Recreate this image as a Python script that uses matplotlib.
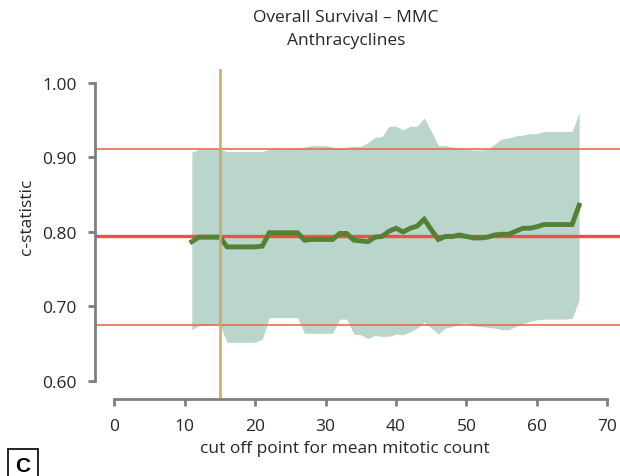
import numpy as np
import matplotlib
matplotlib.use("Agg")
import matplotlib.pyplot as plt

plt.rcParams['font.family'] = ['Open Sans', 'DejaVu Sans']

# cut off points (mean mitotic count)
cutoff = np.arange(11, 67)

# c-statistic and its confidence band
c_stat = [0.787, 0.793, 0.793, 0.793, 0.793, 0.780, 0.780, 0.780, 0.780, 0.780,
          0.781, 0.799, 0.799, 0.799, 0.799, 0.799, 0.789, 0.790, 0.790, 0.790,
          0.790, 0.798, 0.798, 0.789, 0.788, 0.787, 0.793, 0.794, 0.801, 0.805,
          0.800, 0.805, 0.808, 0.817, 0.803, 0.790, 0.794, 0.794, 0.796, 0.794,
          0.792, 0.792, 0.793, 0.796, 0.797, 0.797, 0.801, 0.805, 0.805, 0.807,
          0.810, 0.810, 0.810, 0.810, 0.810, 0.836]
upper = [0.907, 0.911, 0.911, 0.911, 0.911, 0.908, 0.908, 0.908, 0.908, 0.908,
         0.908, 0.911, 0.912, 0.912, 0.912, 0.912, 0.914, 0.916, 0.916, 0.916,
         0.914, 0.912, 0.914, 0.915, 0.915, 0.920, 0.927, 0.928, 0.942, 0.942,
         0.937, 0.942, 0.942, 0.953, 0.935, 0.916, 0.916, 0.914, 0.913, 0.911,
         0.910, 0.910, 0.911, 0.918, 0.925, 0.926, 0.929, 0.930, 0.932, 0.932,
         0.935, 0.935, 0.935, 0.935, 0.935, 0.960]
lower = [0.669, 0.674, 0.675, 0.675, 0.675, 0.652, 0.652, 0.652, 0.652, 0.652,
         0.656, 0.685, 0.685, 0.685, 0.685, 0.685, 0.664, 0.664, 0.664, 0.664,
         0.664, 0.683, 0.683, 0.663, 0.662, 0.657, 0.661, 0.660, 0.660, 0.663,
         0.662, 0.666, 0.671, 0.679, 0.671, 0.663, 0.671, 0.673, 0.677, 0.678,
         0.674, 0.673, 0.672, 0.671, 0.669, 0.669, 0.673, 0.677, 0.680, 0.682,
         0.683, 0.683, 0.683, 0.683, 0.684, 0.709]

# reference lines (overall c-statistic with CI) and chosen cut off
ref_mean = 0.794
ref_upper = 0.912
ref_lower = 0.675
chosen_cutoff = 15

fig = plt.figure(figsize=(6.2, 4.77), dpi=100)
ax = fig.add_axes([95 / 620, 77 / 477, 525 / 620, 330 / 477])

ax.fill_between(cutoff, lower, upper, color='#b9d5cc', linewidth=0)
ax.axhline(ref_upper, color='#ee6a4b', lw=1.2)
ax.axhline(ref_lower, color='#ee6a4b', lw=1.2)
ax.axhline(ref_mean, color='#e8553a', lw=2.4)
ax.plot(cutoff, c_stat, color='#548235', lw=3.5, solid_joinstyle='miter')
ax.axvline(chosen_cutoff, color='#c8a96e', lw=2, alpha=0.9)

ax.set_xlim(-2.75, 71.8)
ax.set_ylim(0.5758, 1.0188)
ax.set_xticks(np.arange(0, 71, 10))
ax.set_yticks([0.6, 0.7, 0.8, 0.9, 1.0])
ax.set_yticklabels(['0.60', '0.70', '0.80', '0.90', '1.00'])

for s in ['top', 'right']:
    ax.spines[s].set_visible(False)
ax.spines['left'].set_bounds(0.6, 1.0)
ax.spines['bottom'].set_bounds(0, 70)
for s in ['left', 'bottom']:
    ax.spines[s].set_color('#7f7f7f')
    ax.spines[s].set_linewidth(2)
ax.tick_params(axis='both', colors='#7f7f7f', width=2, length=5,
               labelcolor='#262626', labelsize=12.5)
ax.tick_params(axis='y', pad=8)
ax.tick_params(axis='x', pad=9)

txt = dict(ha='center', va='center', fontsize=12.5, color='#262626')
fig.text(346 / 620, 1 - 18 / 477, 'Overall Survival \u2013 MMC', **txt)
fig.text(346 / 620, 1 - 41 / 477, 'Anthracyclines', **txt)
fig.text(27 / 620, 1 - 217 / 477, 'c-statistic', rotation=90, **txt)
fig.text(345 / 620, 1 - 449 / 477, 'cut off point for mean mitotic count', **txt)

# panel letter
fig.text(23 / 620, 1 - 467 / 477, 'C', ha='center', va='center',
         fontsize=15, fontweight='bold', family='Liberation Sans',
         bbox=dict(boxstyle='square,pad=0.35', fc='white', ec='black', lw=1.2))

fig.savefig('out.png', dpi=100)
